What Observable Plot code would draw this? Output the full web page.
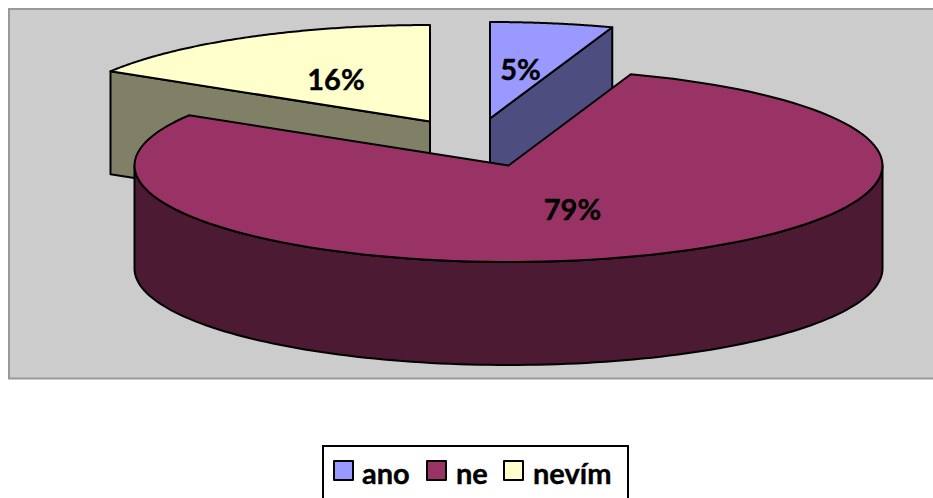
<!DOCTYPE html>
<html>
<head>
<meta charset="utf-8">
<script src="https://cdn.jsdelivr.net/npm/d3@7"></script>
<script src="https://cdn.jsdelivr.net/npm/@observablehq/plot@0.6"></script>
<style>
  html, body { margin: 0; padding: 0; background: #fff; overflow: hidden; }
  body { width: 933px; height: 498px; font-family: Lato, "Open Sans", sans-serif; }
  #legend { position: relative; margin-left: 322px; margin-top: 63px; width: 303px; height: 70px;
    border: 2px solid #000; box-sizing: content-box; font-weight: 700; font-size: 29px; color: #000;
    -webkit-text-stroke: 0.4px #000; }
  #legend span { position: absolute; top: 9px; line-height: 33px; }
  #legend i { position: absolute; top: 13px; width: 17px; height: 17px; border: 2px solid #000; border-radius: 1px; }
</style>
</head>
<body>
<div id="chart"></div>
<div id="legend"></div>
<script>
const categories = ["ano", "ne", "nevím"];
const shares = [5.3, 78.4, 16.3];
const labels = ["5%", "79%", "16%"];
const topColors = ["#9999FF", "#993366", "#FFFFCC"];
const sideColors = ["#4D4D80", "#4D1A33", "#808066"];

const W = 933, H = 382;
const rx = 374, ry = 96.5, depth = 103;
// centre of each exploded slice on the tilted pie
const centres = [[489.5, 118], [508, 165], [429.5, 121]];
const labelPos = [[520, 70], [572, 210], [335.5, 80]];

const total = d3.sum(shares);
let acc = 0;
const slices = categories.map((name, i) => {
  const a0 = acc / total * 2 * Math.PI;
  acc += shares[i];
  return {name, i, a0, a1: acc / total * 2 * Math.PI, c: centres[i]};
});
const at = (s, a, dy = 0) => [s.c[0] + rx * Math.sin(a), s.c[1] - ry * Math.cos(a) + dy];
const arc = (s, a0, a1, dy = 0) =>
  d3.range(0, 121).map(k => at(s, a0 + (a1 - a0) * k / 120, dy));

const shape = (id, pts, fill) => pts.map(([x, y]) => ({id, x, y, fill}));
const [ano, ne, nevim] = slices;

const poly = [
  ...shape("nevim-side", [nevim.c, at(nevim, nevim.a0), at(nevim, nevim.a0, depth), [nevim.c[0], nevim.c[1] + depth]], sideColors[2]),
  ...shape("nevim-top", [nevim.c, ...arc(nevim, nevim.a0, nevim.a1)], topColors[2]),
  ...shape("ano-side", [ano.c, at(ano, ano.a1), at(ano, ano.a1, depth), [ano.c[0], ano.c[1] + depth]], sideColors[0]),
  ...shape("ano-top", [ano.c, ...arc(ano, ano.a0, ano.a1)], topColors[0]),
  ...shape("ne-side", [...arc(ne, Math.PI / 2, 3 * Math.PI / 2), ...arc(ne, Math.PI / 2, 3 * Math.PI / 2, depth).reverse()], sideColors[1]),
  ...shape("ne-top", [ne.c, ...arc(ne, ne.a0, ne.a1)], topColors[1])
];
const labelRows = labels.map((t, i) => ({t, x: labelPos[i][0], y: labelPos[i][1]}));

const chart = Plot.plot({
  width: W, height: H, margin: 0,
  x: {domain: [0, W], range: [0, W], axis: null},
  y: {domain: [0, H], range: [0, H], axis: null},
  style: {background: "transparent"},
  marks: [
    Plot.rect([{x1: 9, x2: 940, y1: 9, y2: 378.5}], {x1: "x1", x2: "x2", y1: "y1", y2: "y2", fill: "#CCCCCC", stroke: "#999999", strokeWidth: 2}),
    Plot.line(poly, {x: "x", y: "y", z: "id", fill: "fill", stroke: "#000", strokeWidth: 2, strokeLinejoin: "round", curve: "linear-closed"}),
    Plot.text(labelRows, {x: "x", y: "y", text: "t", fontFamily: "Lato, sans-serif", fontWeight: 700, fontSize: 29, fill: "#000", stroke: "#000", strokeWidth: 0.4})
  ]
});
document.getElementById("chart").append(chart);
chart.style.display = "block";

const legend = document.getElementById("legend");
const swatchX = [9, 102, 179], textX = [38, 132, 209];
categories.forEach((c, i) => {
  const sw = document.createElement("i");
  sw.style.left = swatchX[i] + "px";
  sw.style.background = topColors[i];
  const tx = document.createElement("span");
  tx.style.left = textX[i] + "px";
  tx.textContent = c;
  legend.append(sw, tx);
});
</script>
</body>
</html>
